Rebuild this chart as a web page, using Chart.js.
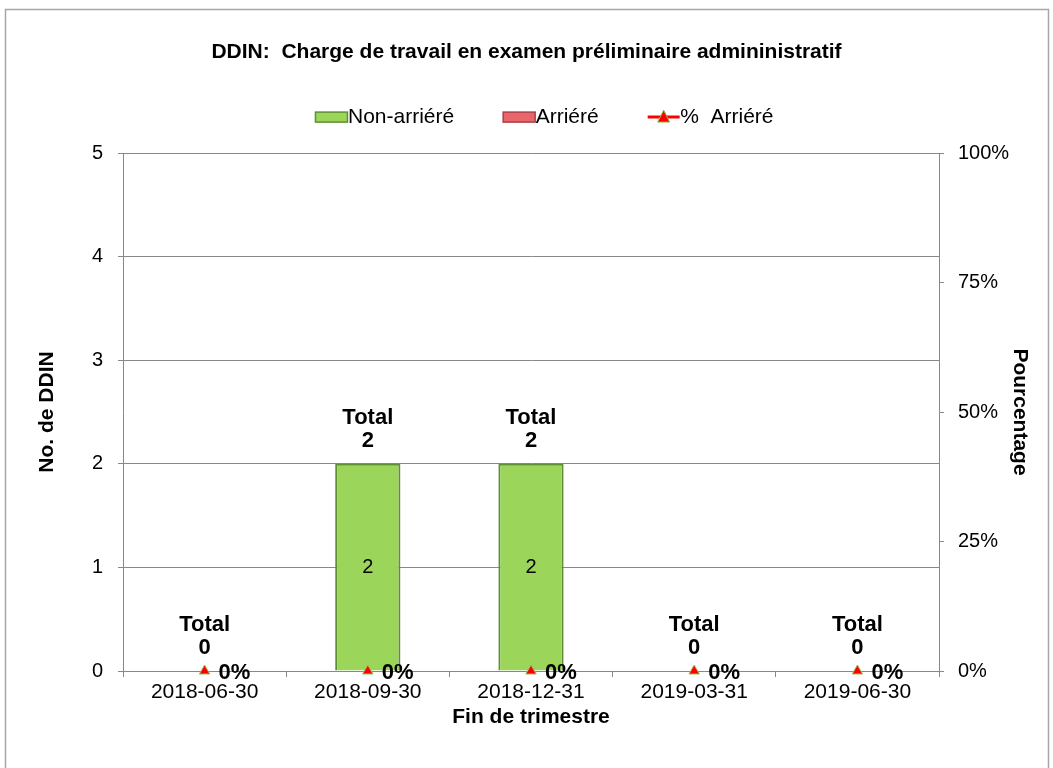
<!DOCTYPE html>
<html>
<head>
<meta charset="utf-8">
<script src="https://cdn.jsdelivr.net/npm/chart.js@4"></script>
<style>
  body { margin: 0; background: #fff; }
  canvas { display: block; }
</style>
</head>
<body>
<canvas id="ddin-chart" width="1053" height="768"></canvas>
<script>
// quarter-end categories and series
const quarters = ['2018-06-30', '2018-09-30', '2018-12-31', '2019-03-31', '2019-06-30'];
const nonArriere = [0, 2, 2, 0, 0];
const arriere = [0, 0, 0, 0, 0];
const pctArriere = [0, 0, 0, 0, 0];
const leftTicks = [0, 1, 2, 3, 4, 5];
const rightTicks = [0, 0.25, 0.5, 0.75, 1];

const FONT = '"Liberation Sans", Arial, sans-serif';
const GREEN = '#9bd55a', GREEN_EDGE = '#5f8f32';
const RED = '#e8656c', RED_EDGE = '#a8404a';

// frame, legend swatches and the data labels drawn on top
const decorPlugin = {
  id: 'decor',
  beforeLayout(chart) {
    const lg = chart.legend;
    if (lg && !lg._wrapped) {
      const fit = lg.fit.bind(lg);
      lg.fit = function () { fit(); this.height += 8.4; };
      lg._wrapped = true;
    }
  },
  afterLayout(chart) {
    const lg = chart.legend;
    if (lg) { lg.left += 18; lg.right += 18; lg.top -= 7; }
  },
  beforeDraw(chart) {
    const ctx = chart.ctx;
    ctx.save();
    ctx.fillStyle = '#fff';
    ctx.fillRect(0, 0, chart.width, chart.height);
    ctx.strokeStyle = '#a6a6a6';
    ctx.lineWidth = 1.5;
    ctx.strokeRect(5.5, 9.5, 1043, 800);
    ctx.restore();
  },
  afterDatasetsDraw(chart) {
    const ctx = chart.ctx;
    const x = chart.scales.x, y = chart.scales.y, y1 = chart.scales.y1;
    ctx.save();
    ctx.fillStyle = '#000';
    ctx.textBaseline = 'middle';
    quarters.forEach((q, i) => {
      const cx = x.getPixelForValue(i);
      const total = nonArriere[i] + arriere[i];
      const top = y.getPixelForValue(total);
      ctx.textAlign = 'center';
      ctx.font = 'bold 22px ' + FONT;
      ctx.fillText('Total', cx, top - 46);
      ctx.fillText(String(total), cx, top - 23);
      if (nonArriere[i] > 0) {
        ctx.font = '20px ' + FONT;
        ctx.fillText(String(nonArriere[i]), cx, (y.getPixelForValue(0) + y.getPixelForValue(nonArriere[i])) / 2);
      }
      ctx.textAlign = 'left';
      ctx.font = 'bold 22px ' + FONT;
      ctx.fillText(Math.round(pctArriere[i] * 100) + '%', cx + 14, y1.getPixelForValue(pctArriere[i]) + 2);
    });
    ctx.restore();
  },
  afterDraw(chart) {
    // legend swatches: two bar boxes and the line + triangle sample
    const lg = chart.legend;
    const boxes = lg && lg.legendHitBoxes;
    if (!boxes || boxes.length < 3) return;
    const ctx = chart.ctx;
    ctx.save();
    [[GREEN, GREEN_EDGE], [RED, RED_EDGE]].forEach(([fill, edge], k) => {
      const hb = boxes[k];
      const cy = hb.top + hb.height / 2;
      ctx.fillStyle = fill;
      ctx.strokeStyle = edge;
      ctx.lineWidth = 1.5;
      ctx.fillRect(hb.left, cy - 5, 32, 10);
      ctx.strokeRect(hb.left, cy - 5, 32, 10);
    });
    const hb = boxes[2];
    const cy = hb.top + hb.height / 2;
    ctx.strokeStyle = '#ff0000';
    ctx.lineWidth = 3;
    ctx.beginPath();
    ctx.moveTo(hb.left, cy);
    ctx.lineTo(hb.left + 32, cy);
    ctx.stroke();
    ctx.fillStyle = '#ff0000';
    ctx.strokeStyle = '#9bbb59';
    ctx.lineWidth = 1;
    ctx.beginPath();
    ctx.moveTo(hb.left + 16, cy - 7);
    ctx.lineTo(hb.left + 22, cy + 5);
    ctx.lineTo(hb.left + 10, cy + 5);
    ctx.closePath();
    ctx.fill();
    ctx.stroke();
    ctx.restore();
  }
};

new Chart(document.getElementById('ddin-chart'), {
  type: 'bar',
  data: {
    labels: quarters,
    datasets: [
      {
        label: 'Non-arriéré',
        data: nonArriere,
        backgroundColor: GREEN,
        borderColor: GREEN_EDGE,
        borderWidth: 2,
        stack: 'ddin',
        barPercentage: 0.4,
        categoryPercentage: 1,
        order: 2
      },
      {
        label: 'Arriéré',
        data: arriere,
        backgroundColor: RED,
        borderColor: RED_EDGE,
        borderWidth: 2,
        stack: 'ddin',
        barPercentage: 0.4,
        categoryPercentage: 1,
        order: 2
      },
      {
        type: 'line',
        label: '%  Arriéré',
        data: pctArriere,
        yAxisID: 'y1',
        showLine: false,
        borderColor: '#ff0000',
        backgroundColor: 'rgba(0,0,0,0)',
        pointStyle: 'triangle',
        pointRadius: 6,
        pointBackgroundColor: '#ff0000',
        pointBorderColor: '#9bbb59',
        pointBorderWidth: 1,
        clip: false,
        order: 1
      }
    ]
  },
  options: {
    responsive: false,
    animation: false,
    layout: { padding: 0 },
    plugins: {
      title: {
        display: true,
        text: 'DDIN:  Charge de travail en examen préliminaire admininistratif',
        color: '#000',
        font: { family: FONT, size: 21, weight: 'bold' },
        padding: { top: 39.4, bottom: 0 }
      },
      legend: {
        position: 'top',
        labels: {
          color: '#000',
          font: { family: FONT, size: 21 },
          boxWidth: 22,
          boxHeight: 10,
          padding: 49,
          sort: (a, b) => a.datasetIndex - b.datasetIndex,
          generateLabels(chart) {
            const items = Chart.defaults.plugins.legend.labels.generateLabels(chart);
            items.forEach(it => {
              it.fillStyle = 'rgba(0,0,0,0)';
              it.strokeStyle = 'rgba(0,0,0,0)';
              it.lineWidth = 0;
            });
            return items;
          }
        }
      },
      tooltip: { enabled: false }
    },
    scales: {
      x: {
        stacked: true,
        offset: true,
        grid: { display: true, drawOnChartArea: false, offset: true, tickLength: 6, color: '#888' },
        border: { color: '#888' },
        ticks: { color: '#000', font: { family: FONT, size: 21 }, padding: 2.4, maxRotation: 0 },
        title: {
          display: true,
          text: 'Fin de trimestre',
          color: '#000',
          font: { family: FONT, size: 21, weight: 'bold' },
          padding: { top: 0, bottom: 38.4 }
        },
        afterFit: s => { s.height = 97; }
      },
      y: {
        position: 'left',
        stacked: true,
        min: 0,
        max: 5,
        afterBuildTicks: s => { s.ticks = leftTicks.map(v => ({ value: v })); },
        grid: { color: '#888', tickLength: 5 },
        border: { color: '#888' },
        ticks: { color: '#000', font: { family: FONT, size: 20 }, padding: 15 },
        title: {
          display: true,
          text: 'No. de DDIN',
          color: '#000',
          font: { family: FONT, size: 21, weight: 'bold' },
          padding: { top: 34.4, bottom: 0 }
        },
        afterFit: s => { s.width = 123; }
      },
      y1: {
        position: 'right',
        min: 0,
        max: 1,
        afterBuildTicks: s => { s.ticks = rightTicks.map(v => ({ value: v })); },
        grid: { drawOnChartArea: false, color: '#888', tickLength: 5 },
        border: { color: '#888' },
        ticks: {
          color: '#000',
          font: { family: FONT, size: 20 },
          padding: 14,
          callback: v => Math.round(v * 100) + '%'
        },
        title: {
          display: true,
          text: 'Pourcentage',
          color: '#000',
          font: { family: FONT, size: 21, weight: 'bold' },
          padding: { top: 20.4, bottom: 0 }
        },
        afterFit: s => { s.width = 114; }
      }
    }
  },
  plugins: [decorPlugin]
});
</script>
</body>
</html>
